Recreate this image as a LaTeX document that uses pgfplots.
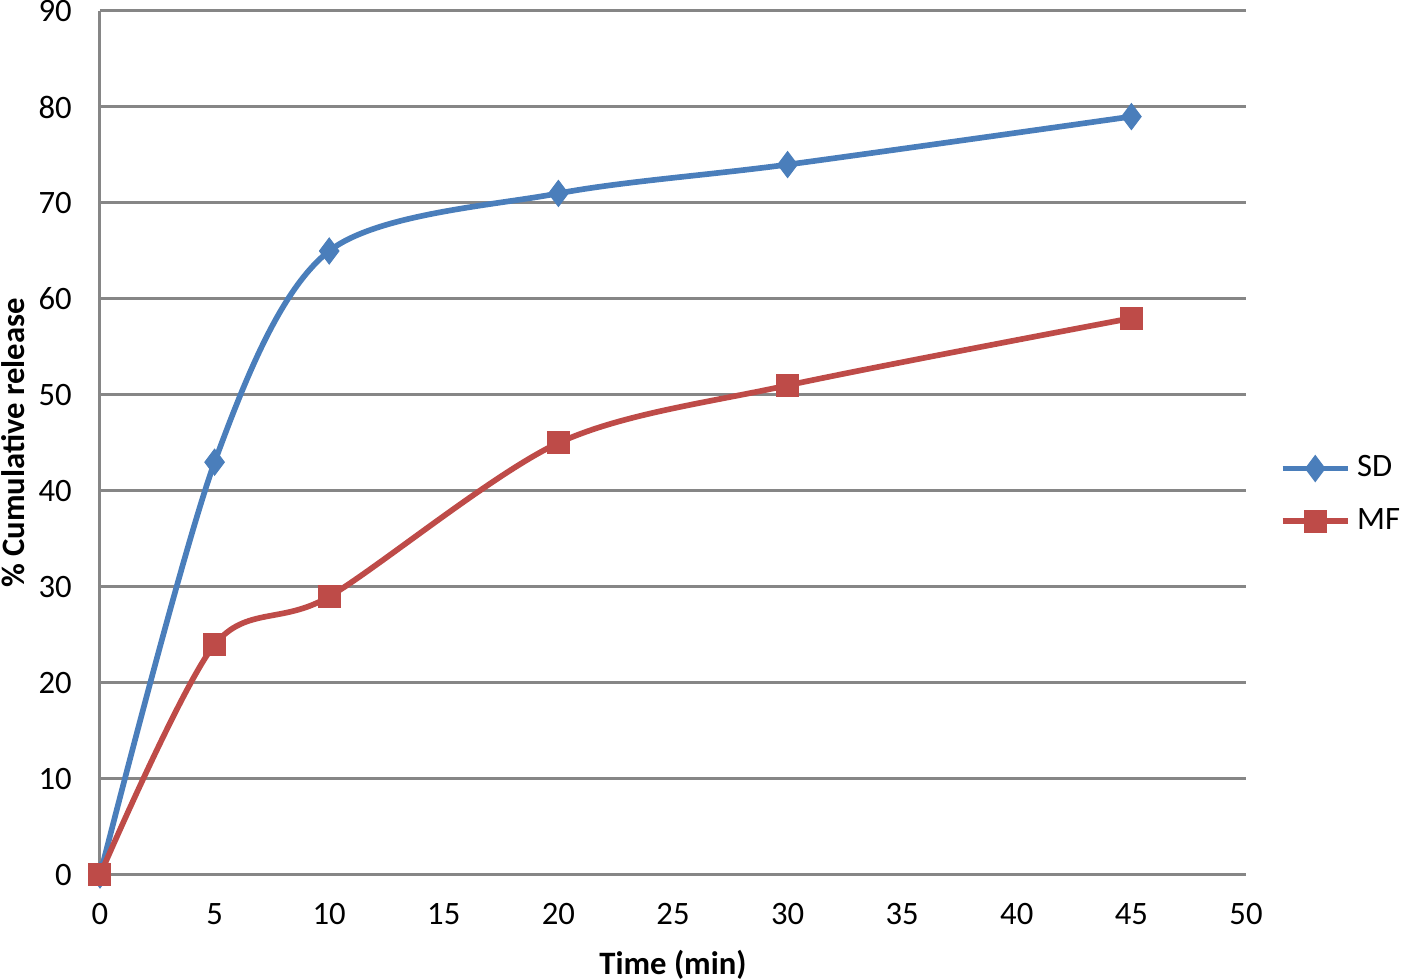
\documentclass[border=0pt]{standalone}
\usepackage{fontspec}
\setmainfont{Carlito}
\usepackage{pgfplots}
\pgfplotsset{compat=1.18}

\definecolor{sdblue}{HTML}{4A7EBB}
\definecolor{mfred}{HTML}{BE4B48}
\definecolor{gridgray}{HTML}{868686}

\begin{document}
\fontsize{9.8}{11.8}\selectfont
\begin{tikzpicture}
\begin{axis}[
  scale only axis,
  width=343.8pt, height=259.2pt,
  at={(0,0)}, anchor=south west,
  xmin=0, xmax=50, ymin=0, ymax=90,
  xtick={0,5,...,50}, ytick={0,10,...,90},
  axis x line*=bottom, axis y line*=left,
  x axis line style={draw=none},
  y axis line style={draw=gridgray, line width=0.9pt},
  axis line style={-},
  ymajorgrids,
  grid style={gridgray, line width=0.9pt},
  major tick length=0pt,
  tick style={draw=none},
  /pgf/number format/assume math mode=true,
  ticklabel style={font=\fontsize{9.8}{11.8}\selectfont},
  yticklabel style={xshift=-5pt},
  xticklabel style={yshift=-5pt},
  xlabel={\textbf{Time (min)}},
  ylabel={\textbf{\% Cumulative release}},
  xlabel style={yshift=-1pt},
  ylabel style={yshift=-2.5pt},
  clip=false,
  legend style={at={(1.029,0.44)}, anchor=west, draw=none, fill=none,
    font=\fontsize{9.8}{11.8}\selectfont, row sep=4pt, inner xsep=0pt,
    /tikz/every even column/.append style={column sep=1pt}},
  legend cell align=left,
  legend image code/.code={
    \draw[mark repeat=2, mark phase=2, sharp plot]
      plot coordinates {(0pt,0pt) (9.75pt,0pt) (19.5pt,0pt)};
  },
]
\addplot[color=sdblue, line width=1.7pt, smooth, tension=0.5,
  mark=diamond*, mark size=3.9pt, mark options={fill=sdblue, draw=sdblue, line width=0.3pt}]
  coordinates {(0,0) (5,43) (10,65) (20,71) (30,74) (45,79)};
\addlegendentry{SD}
\addplot[color=mfred, line width=1.7pt, smooth, tension=0.5,
  mark=square*, mark size=3.3pt, mark options={fill=mfred, draw=mfred, line width=0.3pt}]
  coordinates {(0,0) (5,24) (10,29) (20,45) (30,51) (45,58)};
\addlegendentry{MF}
\end{axis}
\pgfresetboundingbox
\useasboundingbox (-30pt,-31.2pt) rectangle (395.4pt,262.5pt);
\end{tikzpicture}
\end{document}
